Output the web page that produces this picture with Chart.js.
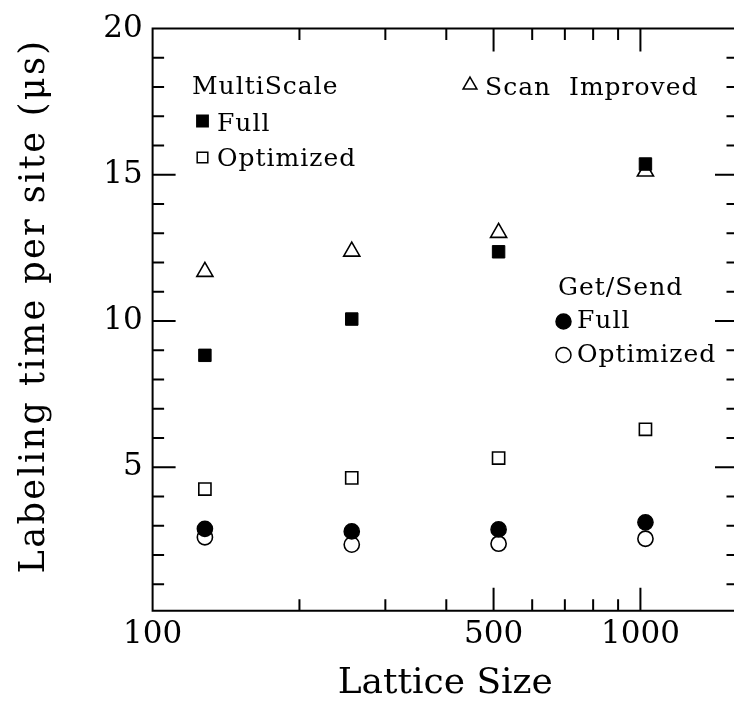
<!DOCTYPE html>
<html>
<head>
<meta charset="utf-8">
<title>Labeling time per site</title>
<script src="https://cdn.jsdelivr.net/npm/chart.js@4.4.1/dist/chart.umd.min.js"></script>
<style>
	html, body { margin: 0; padding: 0; background: #fff; overflow: hidden; }
	#wrap { position: relative; width: 760px; height: 702px; }
</style>
</head>
<body>
<div id="wrap"><canvas id="chart" width="760" height="702"></canvas></div>
<script>

// lattice sizes (x) and the five series
var latticeSizes = [128, 256, 512, 1024];
var multiFull = [8.83, 10.07, 12.37, 15.37];
var multiOptimized = [4.26, 4.64, 5.32, 6.30];
var scanImproved = [11.69, 12.38, 13.02, 15.12];
var getSendFull = [2.90, 2.81, 2.88, 3.12];
var getSendOptimized = [2.61, 2.36, 2.39, 2.56];

// axis ticks
var xTickLabels = [100, 500, 1000];
var xMajorTicks = [500, 1000];
var xMinorTicks = [200, 300, 400, 600, 700, 800, 900];
var yTickLabels = [5, 10, 15, 20];
var yMinorTicks = [1, 2, 3, 4, 6, 7, 8, 9, 11, 12, 13, 14, 16, 17, 18, 19];

var Y_TITLE = 'Labeling time per site (\u03bcs)';
var FONT = '"DejaVu Serif", "Liberation Serif", serif';

function points(ys){
	return latticeSizes.map(function(x, i){
		return { x: x, y: ys[i] };
	});
}

// frame + inward ticks on all four sides, y title, and the two text legends
var framePlugin = {
	id: 'frame',
	afterDraw: function(chart){
		var ctx = chart.ctx;
		var a = chart.chartArea;
		var xs = chart.scales.x, ys = chart.scales.y;
		var MAJ = 23, MIN = 11.5;

		ctx.save();
		ctx.strokeStyle = '#000';
		ctx.lineWidth = 2;
		ctx.beginPath();
		ctx.rect(a.left, a.top, a.right - a.left, a.bottom - a.top);

		xMajorTicks.concat(xMinorTicks).forEach(function(v){
			var px = xs.getPixelForValue(v);
			var len = xMajorTicks.indexOf(v) >= 0 ? MAJ : MIN;
			ctx.moveTo(px, a.bottom); ctx.lineTo(px, a.bottom - len);
			ctx.moveTo(px, a.top); ctx.lineTo(px, a.top + len);
		});
		yTickLabels.concat(yMinorTicks).forEach(function(v){
			var py = ys.getPixelForValue(v);
			var len = yTickLabels.indexOf(v) >= 0 ? MAJ : MIN;
			ctx.moveTo(a.left, py); ctx.lineTo(a.left + len, py);
			ctx.moveTo(a.right, py); ctx.lineTo(a.right - len, py);
		});
		ctx.stroke();

		ctx.fillStyle = '#000';

		// y title, a bit above the middle of the axis like the original
		ctx.save();
		ctx.translate(35, 306);
		ctx.rotate(-Math.PI / 2);
		ctx.font = '35px ' + FONT;
		ctx.letterSpacing = '2.4px';
		ctx.textAlign = 'center';
		ctx.textBaseline = 'middle';
		ctx.fillText(Y_TITLE, 0, 0);
		ctx.restore();

		// legends
		ctx.font = '25px ' + FONT;
		ctx.letterSpacing = '1px';
		ctx.textBaseline = 'alphabetic';
		ctx.fillText('MultiScale', 192, 94);
		ctx.fillText('Full', 217, 131);
		ctx.fillText('Optimized', 217, 166);
		ctx.fillText('Scan  Improved', 485, 95);
		ctx.fillText('Get/Send', 558, 295);
		ctx.fillText('Full', 577, 328);
		ctx.fillText('Optimized', 577, 362);

		var draw = Chart.helpers.drawPoint;
		ctx.lineWidth = 1.5;
		ctx.strokeStyle = '#000';
		ctx.fillStyle = '#000';
		draw(ctx, { pointStyle: 'rect', radius: 8, borderWidth: 1 }, 202.5, 121);
		ctx.fillStyle = '#fff';
		draw(ctx, { pointStyle: 'rect', radius: 7.5, borderWidth: 1.5 }, 202.5, 157.5);
		draw(ctx, { pointStyle: 'triangle', radius: 8, borderWidth: 1.5 }, 470, 85);
		draw(ctx, { pointStyle: 'circle', radius: 7.5, borderWidth: 1.5 }, 563.5, 355);
		ctx.fillStyle = '#000';
		draw(ctx, { pointStyle: 'circle', radius: 7.5, borderWidth: 1.5 }, 563.5, 321.5);
		ctx.restore();
	}
};

var ctx = document.getElementById('chart').getContext('2d');

new Chart(ctx, {
	type: 'scatter',
	data: {
		datasets: [
			{
				label: 'MultiScale Full',
				data: points(multiFull),
				pointStyle: 'rect', pointRadius: 8.8,
				backgroundColor: '#000', borderColor: '#000', borderWidth: 1,
				order: 0
			},
			{
				label: 'MultiScale Optimized',
				data: points(multiOptimized),
				pointStyle: 'rect', pointRadius: 8.6,
				backgroundColor: '#fff', borderColor: '#000', borderWidth: 1.6,
				order: 1
			},
			{
				label: 'Scan Improved',
				data: points(scanImproved),
				pointStyle: 'triangle', pointRadius: 9.3,
				backgroundColor: '#fff', borderColor: '#000', borderWidth: 1.6,
				order: 2
			},
			{
				label: 'Get/Send Full',
				data: points(getSendFull),
				pointStyle: 'circle', pointRadius: 7.6,
				backgroundColor: '#000', borderColor: '#000', borderWidth: 1.5,
				order: 3
			},
			{
				label: 'Get/Send Optimized',
				data: points(getSendOptimized),
				pointStyle: 'circle', pointRadius: 7.6,
				backgroundColor: '#fff', borderColor: '#000', borderWidth: 1.6,
				order: 4
			}
		]
	},
	options: {
		responsive: false,
		animation: false,
		events: [],
		layout: { padding: { top: 25, right: 22, left: 0, bottom: 0 } },
		plugins: {
			legend: { display: false },
			tooltip: { enabled: false }
		},
		scales: {
			x: {
				type: 'logarithmic',
				min: 100,
				max: 1585,
				grid: { display: false, drawTicks: false },
				border: { display: false },
				ticks: {
					autoSkip: false,
					maxRotation: 0,
					padding: 6,
					color: '#000',
					font: { family: FONT, size: 31 },
					callback: function(v){
						return xTickLabels.indexOf(v) >= 0 ? String(v) : '';
					}
				},
				title: {
					display: true,
					text: 'Lattice Size',
					color: '#000',
					font: { family: FONT, size: 36 },
					padding: { top: 0, bottom: -3 }
				},
				afterFit: function(scale){ scale.height = 91.3; }
			},
			y: {
				min: 0.1,
				max: 20,
				grid: { display: false, drawTicks: false },
				border: { display: false },
				ticks: {
					stepSize: 5,
					padding: 10,
					color: '#000',
					font: { family: FONT, size: 31 },
					callback: function(v){
						return yTickLabels.indexOf(v) >= 0 ? String(v) : '';
					}
				},
				title: { display: false },
				afterFit: function(scale){ scale.width = 152.6; }
			}
		}
	},
	plugins: [framePlugin]
});
</script>
</body>
</html>
